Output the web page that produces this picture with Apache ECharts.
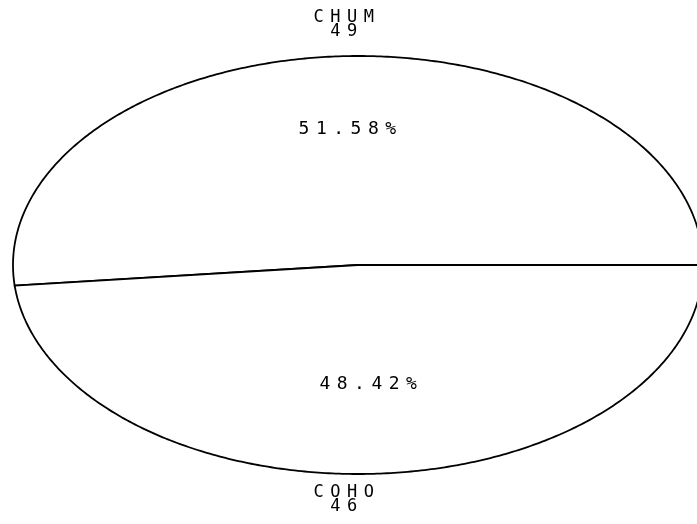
<!DOCTYPE html>
<html>
<head>
<meta charset="utf-8">
<script src="https://cdn.jsdelivr.net/npm/echarts@6/dist/echarts.min.js"></script>
<style>
  html, body { margin: 0; padding: 0; background: #fff; }
  #chart { width: 697px; height: 524px; }
</style>
</head>
<body>
<div id="chart"></div>
<script>
const species = ['CHUM', 'COHO']
const counts = [49, 46]

const total = counts.reduce((a, b) => a + b, 0)

// ellipse layout (the plot is squashed vertically and runs off the right edge)
const cx = 358
const cy = 265
const rx = 345
const ry = 209

const font = 'DejaVu Sans Mono'

function renderSlice(params, api) {
  const i = params.dataIndex
  const value = api.value(0)
  const before = counts.slice(0, i).reduce((a, b) => a + b, 0)
  const start = before / total * Math.PI * 2
  const end = (before + value) / total * Math.PI * 2
  const pt = (a, k) => [cx + Math.cos(a) * rx * k, cy - Math.sin(a) * ry * k]

  const points = [[cx, cy]]
  const steps = Math.max(8, Math.ceil((end - start) / 0.01))
  for (let s = 0; s <= steps; s++) {
    points.push(pt(start + (end - start) * s / steps, 1))
  }

  const mid = (start + end) / 2
  const inner = pt(mid, 0.61)
  const upper = Math.sin(mid) > 0
  const pct = (value / total * 100).toFixed(2) + '%'

  return {
    type: 'group',
    children: [
      {
        type: 'polygon',
        shape: { points: points },
        style: { fill: '#fff', stroke: '#000', lineWidth: 1.8 }
      },
      {
        type: 'text',
        x: inner[0] + 3,
        y: inner[1] + 1,
        style: {
          text: pct,
          fill: '#000',
          font: '18px "' + font + '"',
          align: 'center',
          verticalAlign: 'bottom'
        }
      },
      {
        type: 'text',
        x: cx - 11,
        y: upper ? cy - ry - 17 : cy + ry + 12,
        style: {
          text: species[i] + '\n' + value,
          fill: '#000',
          font: '17px "' + font + '"',
          lineHeight: 14,
          align: 'center',
          verticalAlign: upper ? 'bottom' : 'top'
        }
      }
    ]
  }
}

const chart = echarts.init(document.getElementById('chart'))

// the old plotter font is widely spaced; give the canvas the same tracking
let spaced = false
chart.on('finished', () => {
  if (spaced) return
  spaced = true
  document.querySelectorAll('#chart canvas').forEach(c => {
    c.getContext('2d').letterSpacing = '6.5px'
  })
  chart.getZr().painter.refresh(true)
})

chart.setOption({
  backgroundColor: '#fff',
  animation: false,
  series: [
    {
      type: 'custom',
      coordinateSystem: 'none',
      renderItem: renderSlice,
      data: counts.map((v, i) => ({ name: species[i], value: [v] }))
    }
  ]
})
</script>
</body>
</html>
